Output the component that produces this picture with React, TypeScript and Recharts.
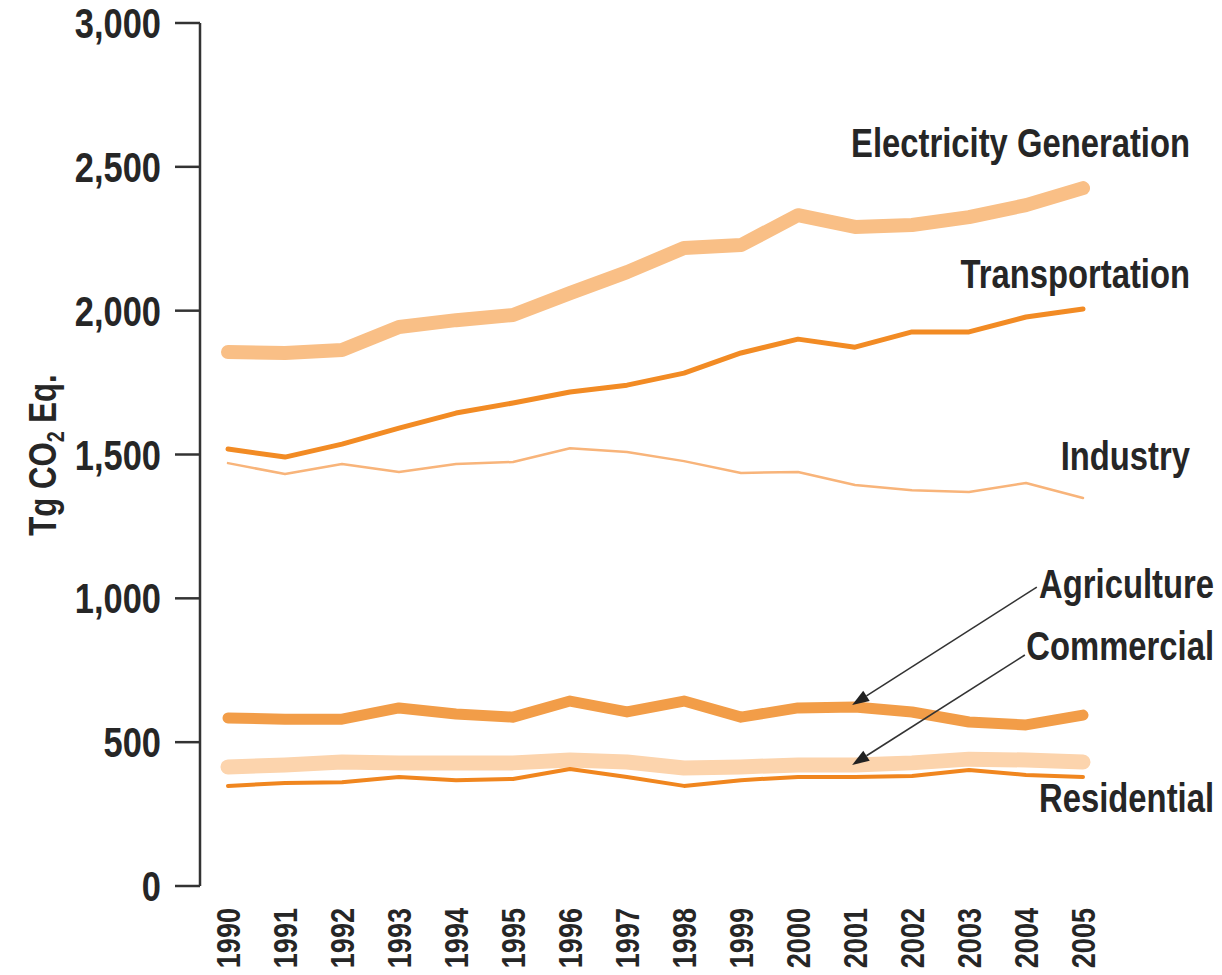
import { Customized, Line, LineChart, ReferenceLine, XAxis, YAxis } from "recharts";

// Liberation Sans Bold squeezed horizontally to get the condensed look of the original
const FONT = "'Liberation Sans', Arial, sans-serif";
const SQUEEZE = 0.82;
const INK = "#262626";

const years = [1990, 1991, 1992, 1993, 1994, 1995, 1996, 1997, 1998, 1999, 2000, 2001, 2002, 2003, 2004, 2005];
const electricity = [1856, 1853, 1863, 1943, 1967, 1985, 2061, 2134, 2218, 2228, 2332, 2291, 2298, 2325, 2367, 2426];
const transportation = [1519, 1491, 1536, 1592, 1644, 1679, 1717, 1741, 1783, 1853, 1901, 1873, 1926, 1926, 1978, 2006];
const industry = [1470, 1432, 1467, 1439, 1467, 1474, 1522, 1509, 1477, 1436, 1439, 1394, 1376, 1370, 1401, 1349];
const agriculture = [584, 580, 580, 619, 598, 587, 643, 605, 643, 587, 619, 622, 605, 570, 560, 594];
const commercial = [414, 421, 431, 428, 428, 428, 438, 431, 410, 414, 421, 421, 428, 441, 438, 431];
const residential = [348, 358, 361, 379, 368, 372, 407, 379, 348, 368, 379, 379, 382, 403, 386, 379];

const yTicks = [0, 500, 1000, 1500, 2000, 2500, 3000];

const data = years.map((year, i) => ({
  year,
  electricity: electricity[i],
  transportation: transportation[i],
  industry: industry[i],
  agriculture: agriculture[i],
  commercial: commercial[i],
  residential: residential[i],
}));

type CondProps = {
  x: number;
  y: number;
  size: number;
  rotate?: number;
  anchor?: "start" | "middle" | "end";
  dy?: string;
  children: any;
};

const CondText = ({ x, y, size, rotate = 0, anchor = "end", dy, children }: CondProps) => (
  <g transform={`translate(${x}, ${y}) rotate(${rotate}) scale(${SQUEEZE}, 1)`}>
    <text x={0} y={0} dy={dy} textAnchor={anchor} fontFamily={FONT} fontWeight="bold" fontSize={size} fill={INK}>
      {children}
    </text>
  </g>
);

const YearTick = (props: any) => {
  const { x, y, payload } = props;
  return (
    <CondText x={x} y={y + 22} rotate={-90} size={33} dy="0.36em">
      {payload.value}
    </CondText>
  );
};

const ValueTick = (props: any) => {
  const { x, y, payload } = props;
  return (
    <CondText x={x} y={y} size={42} dy="0.36em">
      {payload.value.toLocaleString("en-US")}
    </CondText>
  );
};

const Arrow = (props: any) => {
  const { x1, y1, x2, y2 } = props;
  const ang = Math.atan2(y2 - y1, x2 - x1);
  const len = 17;
  const half = 6;
  const bx = x2 - len * Math.cos(ang);
  const by = y2 - len * Math.sin(ang);
  const px = -Math.sin(ang) * half;
  const py = Math.cos(ang) * half;
  return (
    <g>
      <line x1={x1} y1={y1} x2={bx} y2={by} stroke="#333" strokeWidth={1.6} />
      <polygon points={`${x2},${y2} ${bx + px},${by + py} ${bx - px},${by - py}`} fill="#222" />
    </g>
  );
};

const Annotations = () => (
  <g>
    <CondText x={42} y={455} rotate={-90} size={38} anchor="middle" dy="0.36em">
      Tg CO<tspan fontSize={24} dy="8">2</tspan><tspan dy="-8"> Eq.</tspan>
    </CondText>
    <CondText x={1190} y={157} size={40}>Electricity Generation</CondText>
    <CondText x={1190} y={288} size={40}>Transportation</CondText>
    <CondText x={1190} y={470} size={40}>Industry</CondText>
    <CondText x={1214} y={598} size={40}>Agriculture</CondText>
    <CondText x={1214} y={660} size={40}>Commercial</CondText>
    <CondText x={1214} y={812} size={40}>Residential</CondText>
  </g>
);

export default function App() {
  return (
    <div style={{ position: "absolute", left: 0, top: 0, width: 1222, height: 975, background: "#fff" }}>
      <LineChart width={1222} height={975} data={data} margin={{ top: 23, right: 139, bottom: 0, left: 0 }}>
        <XAxis
          dataKey="year"
          type="number"
          domain={[1990, 2005]}
          ticks={years}
          interval={0}
          padding={{ left: 28, right: 0 }}
          axisLine={false}
          tickLine={false}
          tickSize={0}
          tickMargin={0}
          height={89}
          tick={<YearTick />}
        />
        <YAxis
          type="number"
          domain={[0, 3000]}
          ticks={yTicks}
          interval={0}
          width={200}
          tickSize={25}
          tickMargin={14}
          axisLine={{ stroke: "#333", strokeWidth: 2.5 }}
          tickLine={{ stroke: "#333", strokeWidth: 2.5 }}
          tick={<ValueTick />}
        />
        <Line dataKey="commercial" stroke="#fcd4ad" strokeWidth={15} strokeLinecap="round" strokeLinejoin="round" dot={false} isAnimationActive={false} />
        <Line dataKey="residential" stroke="#f0861f" strokeWidth={4} strokeLinecap="round" strokeLinejoin="round" dot={false} isAnimationActive={false} />
        <Line dataKey="agriculture" stroke="#f29d48" strokeWidth={11} strokeLinecap="round" strokeLinejoin="round" dot={false} isAnimationActive={false} />
        <Line dataKey="industry" stroke="#f8b47a" strokeWidth={2.5} strokeLinecap="round" strokeLinejoin="round" dot={false} isAnimationActive={false} />
        <Line dataKey="transportation" stroke="#f28b24" strokeWidth={5} strokeLinecap="round" strokeLinejoin="round" dot={false} isAnimationActive={false} />
        <Line dataKey="electricity" stroke="#f9bf86" strokeWidth={14} strokeLinecap="round" strokeLinejoin="round" dot={false} isAnimationActive={false} />
        <ReferenceLine segment={[{ x: 2004.19, y: 1039 }, { x: 2000.95, y: 629 }]} shape={<Arrow />} />
        <ReferenceLine segment={[{ x: 2003.98, y: 803 }, { x: 2000.95, y: 421 }]} shape={<Arrow />} />
        <Customized component={<Annotations />} />
      </LineChart>
    </div>
  );
}
